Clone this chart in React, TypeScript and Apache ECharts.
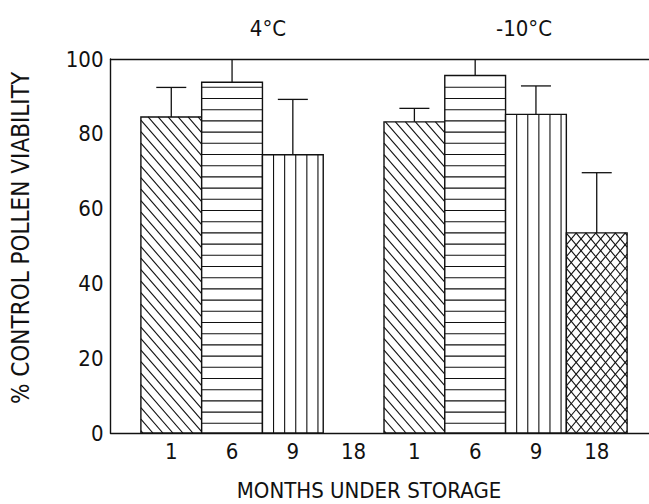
import React, { useEffect, useRef } from "react";
import * as echarts from "echarts";

// ---- data ----
const groupLabels = ["4°C", "-10°C"];
const monthLabels = ["1", "6", "9", "18", "1", "6", "9", "18"];
const viability = [84.5, 93.8, 74.4, null, 83.2, 95.6, 85.2, 53.5];
const errorTop = [92.4, 102, 89.2, null, 86.8, 102, 92.8, 69.6];
const yTicks = [0, 20, 40, 60, 80, 100];
const xTitle = "MONTHS UNDER STORAGE";
const yTitle = "% CONTROL POLLEN VIABILITY";

// hatch style per storage month
const hatchByMonth: Record<string, string> = {
  "1": "back",
  "6": "horiz",
  "9": "vert",
  "18": "cross",
};

const FONT = '"DejaVu Sans Condensed", "DejaVu Sans", sans-serif';
const INK = "#111";

function diagLines(
  left: number,
  right: number,
  top: number,
  bottom: number,
  d: number,
  s: number,
  dir: "back" | "fwd",
  off: number
) {
  const H = bottom - top;
  const out: any[] = [];
  const span = H / s;
  for (let k = -200; k < 200; k++) {
    const xk = left + off + k * d;
    if (xk < left - span - d || xk > right + span + d) continue;
    let t0: number, t1: number;
    if (dir === "back") {
      t0 = (xk - right) * s;
      t1 = (xk - left) * s;
    } else {
      t0 = (left - xk) * s;
      t1 = (right - xk) * s;
    }
    t0 = Math.max(0, t0);
    t1 = Math.min(H, t1);
    if (t1 - t0 < 0.5) continue;
    const px = (t: number) => (dir === "back" ? xk - t / s : xk + t / s);
    out.push({
      type: "line",
      shape: { x1: px(t0), y1: bottom - t0, x2: px(t1), y2: bottom - t1 },
      style: { stroke: INK, lineWidth: 1.1 },
    });
  }
  return out;
}

export default function App() {
  const ref = useRef<HTMLDivElement>(null);

  useEffect(() => {
    if (!ref.current) return;
    const chart = echarts.init(ref.current, null, { renderer: "svg" });

    const data = viability
      .map((v, i) => (v == null ? null : [i, v, errorTop[i]]))
      .filter((d) => d !== null);

    const renderItem = (params: any, api: any) => {
      const x = api.value(0);
      const v = api.value(1);
      const e = api.value(2);
      const month = monthLabels[x];
      const p0 = api.coord([x - 0.5, v]);
      const p1 = api.coord([x + 0.5, 0]);
      const left = p0[0];
      const top = p0[1];
      const right = p1[0];
      const bottom = p1[1];
      const cx = (left + right) / 2;
      const pe = api.coord([x, e]);
      const children: any[] = [];
      children.push({
        type: "rect",
        shape: { x: left, y: top, width: right - left, height: bottom - top },
        style: { fill: "#fff", stroke: null },
      });
      const kind = hatchByMonth[month];
      if (kind === "horiz") {
        for (let y = bottom - 9.7; y > top + 1.5; y -= 11.2) {
          children.push({
            type: "line",
            shape: { x1: left, y1: y, x2: right, y2: y },
            style: { stroke: INK, lineWidth: 1.1 },
          });
        }
      } else if (kind === "vert") {
        for (let xx = left + 11.1; xx < right - 1.5; xx += 11.1) {
          children.push({
            type: "line",
            shape: { x1: xx, y1: top, x2: xx, y2: bottom },
            style: { stroke: INK, lineWidth: 1.1 },
          });
        }
      } else if (kind === "back") {
        children.push(...diagLines(left, right, top, bottom, 10, 1.15, "back", 2));
      } else if (kind === "cross") {
        children.push(...diagLines(left, right, top, bottom, 9.8, 1.2, "back", 0));
        children.push(...diagLines(left, right, top, bottom, 9.8, 1.2, "fwd", 0));
      }
      children.push({
        type: "rect",
        shape: { x: left, y: top, width: right - left, height: bottom - top },
        style: { fill: null, stroke: INK, lineWidth: 1.4 },
      });
      children.push({
        type: "line",
        shape: { x1: cx, y1: top, x2: cx, y2: pe[1] },
        style: { stroke: INK, lineWidth: 1.3 },
      });
      children.push({
        type: "line",
        shape: { x1: cx - 15, y1: pe[1], x2: cx + 15, y2: pe[1] },
        style: { stroke: INK, lineWidth: 1.3 },
      });
      return { type: "group", children };
    };

    const axisLineStyle = { color: INK, width: 1.4 };

    chart.setOption({
      animation: false,
      backgroundColor: "#fff",
      grid: { left: 110.5, right: 0, top: 59, bottom: 71, containLabel: false },
      xAxis: [
        {
          type: "value",
          position: "bottom",
          min: -1,
          max: 7.86,
          interval: 1,
          axisLine: { show: true, onZero: false, lineStyle: axisLineStyle },
          axisTick: { show: false },
          splitLine: { show: false },
          axisLabel: {
            show: true,
            showMinLabel: false,
            showMaxLabel: false,
            margin: 7,
            fontFamily: FONT,
            fontSize: 22,
            color: INK,
            formatter: (val: number) => {
              const i = Math.round(val);
              return Math.abs(val - i) < 1e-6 && i >= 0 && i < monthLabels.length
                ? monthLabels[i]
                : "";
            },
          },
        },
        {
          type: "value",
          position: "top",
          min: -1,
          max: 7.86,
          axisLine: { show: true, onZero: false, lineStyle: axisLineStyle },
          axisTick: { show: false },
          axisLabel: { show: false },
          splitLine: { show: false },
        },
      ],
      yAxis: {
        type: "value",
        min: yTicks[0],
        max: yTicks[yTicks.length - 1],
        interval: yTicks[1] - yTicks[0],
        axisLine: { show: true, onZero: false, lineStyle: axisLineStyle },
        axisTick: { show: false },
        splitLine: { show: false },
        axisLabel: {
          margin: 7,
          fontFamily: FONT,
          fontSize: 22,
          color: INK,
        },
      },
      series: [
        {
          type: "custom",
          xAxisIndex: 0,
          yAxisIndex: 0,
          clip: true,
          renderItem,
          encode: { x: 0, y: 1 },
          data,
        },
      ],
      graphic: [
        {
          type: "text",
          x: 268,
          y: 28,
          style: {
            text: groupLabels[0],
            font: `22px ${FONT}`,
            fill: INK,
            align: "center",
            verticalAlign: "middle",
          },
        },
        {
          type: "text",
          x: 524,
          y: 28,
          style: {
            text: groupLabels[1],
            font: `22px ${FONT}`,
            fill: INK,
            align: "center",
            verticalAlign: "middle",
          },
        },
        {
          type: "text",
          x: 369,
          y: 490,
          style: {
            text: xTitle,
            font: `22px ${FONT}`,
            fill: INK,
            align: "center",
            verticalAlign: "middle",
          },
        },
        {
          type: "text",
          x: 21,
          y: 238,
          rotation: Math.PI / 2,
          style: {
            text: yTitle,
            font: `24px ${FONT}`,
            fill: INK,
            align: "center",
            verticalAlign: "middle",
          },
        },
      ],
    });

    return () => chart.dispose();
  }, []);

  return (
    <div
      ref={ref}
      style={{
        position: "fixed",
        left: 0,
        top: 0,
        width: 649,
        height: 504,
        background: "#fff",
      }}
    />
  );
}
